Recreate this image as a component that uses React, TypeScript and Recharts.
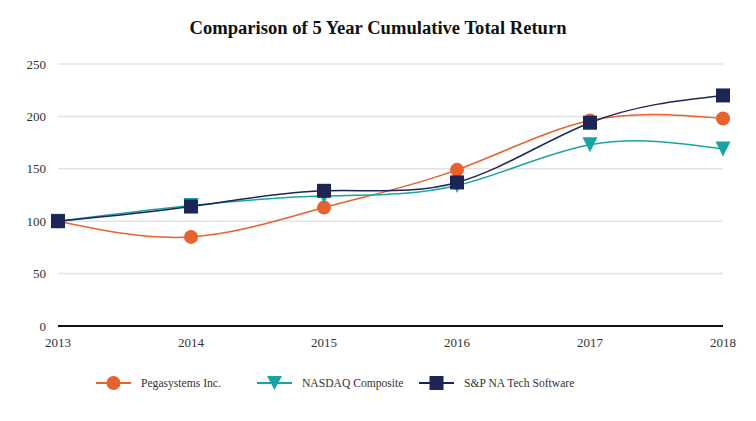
import React from 'react';
import { LineChart, Line, XAxis, YAxis, CartesianGrid } from 'recharts';

const years = ['2013', '2014', '2015', '2016', '2017', '2018'];
const pega = [100, 85, 113, 149, 196, 198];
const nasdaq = [100, 115, 124, 134, 173, 169];
const spTech = [100, 114, 129, 137, 194, 220];
const yTicks = [0, 50, 100, 150, 200, 250];

const ORANGE = '#E9612C';
const TEAL = '#19A4A4';
const NAVY = '#1D2456';
const FONT = '"Liberation Serif", "Times New Roman", serif';

const data = years.map((y, i) => ({ year: y, pega: pega[i], nasdaq: nasdaq[i], sp: spTech[i] }));

const CircleDot = (props: any) => {
  const { cx, cy, key } = props;
  return <circle key={key} cx={cx} cy={cy} r={7} fill={ORANGE} />;
};

const TriDot = (props: any) => {
  const { cx, cy, key } = props;
  const s = 7.5;
  return (
    <path key={key} d={`M${cx - s},${cy - s} L${cx + s},${cy - s} L${cx},${cy + s} Z`} fill={TEAL} />
  );
};

const SquareDot = (props: any) => {
  const { cx, cy, key } = props;
  return <rect key={key} x={cx - 7} y={cy - 7} width={14} height={14} fill={NAVY} />;
};

function LegendItem({ color, label, marker, left }: { color: string; label: string; marker: string; left: number }) {
  return (
    <div style={{ position: 'absolute', left, top: 374, display: 'flex', alignItems: 'center' }}>
      <svg width={36} height={18}>
        <line x1={0} y1={9} x2={35} y2={9} stroke={color} strokeWidth={2} />
        {marker === 'circle' && <circle cx={17.5} cy={9} r={7} fill={color} />}
        {marker === 'tri' && <path d="M10,2 L25,2 L17.5,16 Z" fill={color} />}
        {marker === 'square' && <rect x={10.5} y={2} width={14} height={14} fill={color} />}
      </svg>
      <span style={{ marginLeft: 9, fontSize: 11.6, color: '#333', fontFamily: FONT }}>{label}</span>
    </div>
  );
}

export default function App() {
  return (
    <div style={{ position: 'absolute', left: 0, top: 0, width: 756, height: 421, background: '#fff', fontFamily: FONT }}>
      <div style={{ position: 'absolute', top: 17, width: 756, textAlign: 'center', fontSize: 18.6, fontWeight: 'bold', color: '#111' }}>
        Comparison of 5 Year Cumulative Total Return
      </div>
      <LineChart width={756} height={421} data={data} margin={{ top: 64, right: 33, bottom: 65, left: 0 }}>
        <CartesianGrid vertical={false} stroke="#e3e3e3" strokeWidth={1.5} />
        <XAxis
          dataKey="year"
          axisLine={{ stroke: '#111', strokeWidth: 2 }}
          tickLine={false}
          tickMargin={6}
          height={30}
          tick={{ fontSize: 13, fill: '#333', fontFamily: FONT }}
        />
        <YAxis
          domain={[0, 250]}
          ticks={yTicks}
          axisLine={false}
          tickLine={false}
          width={58}
          tickMargin={6}
          tick={{ fontSize: 13, fill: '#333', fontFamily: FONT }}
        />
        <Line type="natural" dataKey="pega" stroke={ORANGE} strokeWidth={1.5} dot={CircleDot} activeDot={false} isAnimationActive={false} />
        <Line type="natural" dataKey="nasdaq" stroke={TEAL} strokeWidth={1.5} dot={TriDot} activeDot={false} isAnimationActive={false} />
        <Line type="natural" dataKey="sp" stroke={NAVY} strokeWidth={1.5} dot={SquareDot} activeDot={false} isAnimationActive={false} />
      </LineChart>
      <LegendItem color={ORANGE} label="Pegasystems Inc." marker="circle" left={96} />
      <LegendItem color={TEAL} label="NASDAQ Composite" marker="tri" left={257} />
      <LegendItem color={NAVY} label="S&P NA Tech Software" marker="square" left={419} />
    </div>
  );
}
